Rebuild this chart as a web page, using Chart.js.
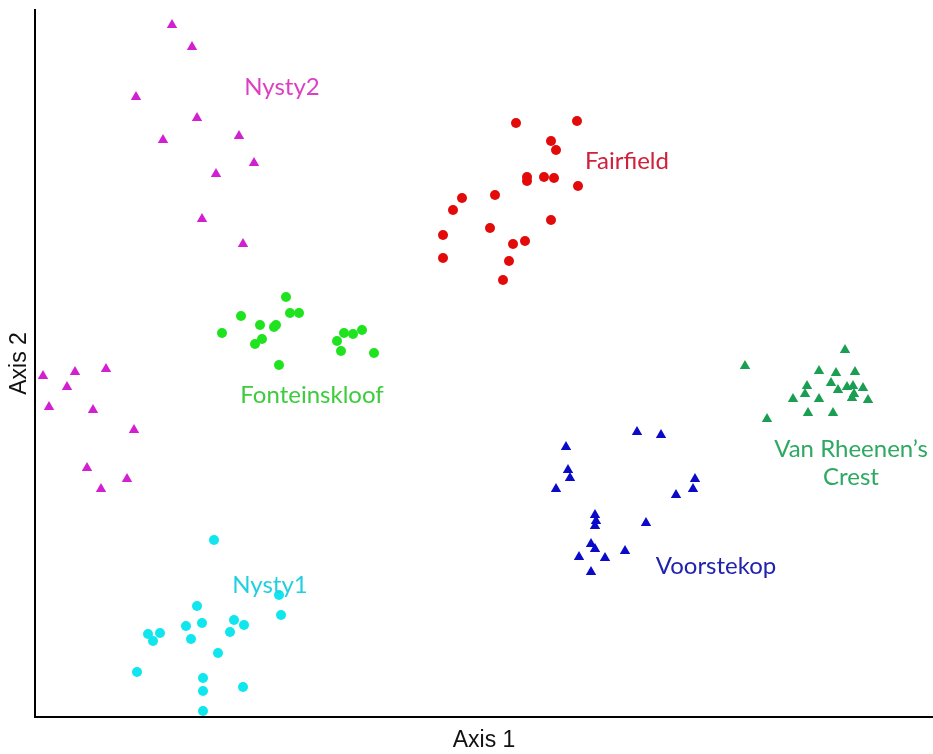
<!DOCTYPE html>
<html>
<head>
<meta charset="utf-8">
<script src="https://cdn.jsdelivr.net/npm/chart.js@4/dist/chart.umd.min.js"></script>
<style>
  html, body { margin: 0; padding: 0; background: #fff; }
  #wrap { width: 933px; height: 754px; }
</style>
</head>
<body>
<div id="wrap"><canvas id="ordination"></canvas></div>
<script>
// site scores (axis units are arbitrary)
const nysty2X = [137, 157, 101, 162, 128, 204, 219, 181, 167, 208, 8, 40, 71, 32, 14, 58, 99, 52, 92, 66];
const nysty2Y = [692, 670, 620, 599, 577, 581, 554, 543, 498, 473, 341, 345, 348, 330, 310, 307, 287, 249, 238, 228];

const fairfieldX = [481, 542, 516, 521, 492, 492, 509, 519, 543, 427, 460, 418, 516, 455, 408, 490, 478, 408, 474, 468];
const fairfieldY = [594, 596, 576, 567, 540, 536, 540, 539, 531, 519, 522, 507, 497, 489, 482, 476, 473, 459, 456, 437];

const fonteinX = [251, 206, 255, 264, 225, 239, 241, 187, 227, 220, 244, 309, 318, 327, 302, 306, 339];
const fonteinY = [420, 401, 404, 404, 392, 390, 392, 384, 378, 373, 352, 384, 383, 387, 376, 366, 364];

const nysty1X = [179, 244, 246, 162, 167, 151, 199, 209, 195, 156, 113, 125, 118, 183, 102, 168, 168, 208, 168];
const nysty1Y = [177, 122, 102, 111, 94, 91, 97, 92, 85, 78, 83, 84, 76, 64, 45, 39, 26, 30, 6];

const voorX = [602, 626, 531, 533, 535, 521, 660, 658, 641, 560, 561, 560, 611, 556, 560, 544, 570, 590, 556];
const voorY = [285, 282, 270, 247, 239, 228, 238, 228, 222, 202, 196, 191, 194, 173, 168, 160, 159, 166, 145];

const vanRheenenX = [810, 710, 784, 801, 820, 796, 772, 803, 812, 818, 828, 770, 758, 784, 817, 819, 833, 773, 798, 732];
const vanRheenenY = [367, 351, 346, 344, 345, 334, 331, 327, 330, 331, 329, 323, 318, 318, 319, 323, 317, 304, 304, 298];

const siteNames = ["Nysty2", "Fairfield", "Fonteinskloof", "Nysty1", "Voorstekop", ["Van Rheenen\u2019s", "Crest"]];
const labelX = [247, 592, 277, 235, 681, 816];
const labelY = [630, 556, 322, 132, 151, 254];

function toPoints(xs, ys) {
  return xs.map((x, i) => ({ x: x, y: ys[i] }));
}

const dotColors = ["#d21fd2", "#e30a0a", "#1fe31f", "#0fe6ee", "#0a0ac8", "#1a9e52"];
const textColors = ["#dd3fc4", "#d0203a", "#3ccc3c", "#22cfe0", "#2222b0", "#2ea862"];

const datasets = [
  { data: toPoints(nysty2X, nysty2Y), pointStyle: "triangle", pointRadius: 6 },
  { data: toPoints(fairfieldX, fairfieldY), pointStyle: "circle", pointRadius: 5 },
  { data: toPoints(fonteinX, fonteinY), pointStyle: "circle", pointRadius: 5 },
  { data: toPoints(nysty1X, nysty1Y), pointStyle: "circle", pointRadius: 5 },
  { data: toPoints(voorX, voorY), pointStyle: "triangle", pointRadius: 6 },
  { data: toPoints(vanRheenenX, vanRheenenY), pointStyle: "triangle", pointRadius: 6 },
].map((ds, i) => ({
  ...ds,
  label: Array.isArray(siteNames[i]) ? siteNames[i].join(" ") : siteNames[i],
  backgroundColor: dotColors[i],
  borderColor: dotColors[i],
  borderWidth: 0,
}));

// writes the site names next to their clusters
const siteLabels = {
  id: "siteLabels",
  afterDatasetsDraw(chart) {
    const ctx = chart.ctx;
    const xs = chart.scales.x;
    const ys = chart.scales.y;
    ctx.save();
    ctx.font = "24px Lato";
    ctx.textAlign = "center";
    ctx.textBaseline = "middle";
    siteNames.forEach((name, i) => {
      const lines = Array.isArray(name) ? name : [name];
      const px = xs.getPixelForValue(labelX[i]);
      const py = ys.getPixelForValue(labelY[i]);
      ctx.fillStyle = textColors[i];
      lines.forEach((line, j) => {
        ctx.fillText(line, px, py + (j - (lines.length - 1) / 2) * 28);
      });
    });
    ctx.restore();
  },
};

new Chart(document.getElementById("ordination"), {
  type: "scatter",
  data: { datasets: datasets },
  plugins: [siteLabels],
  options: {
    responsive: true,
    maintainAspectRatio: false,
    animation: false,
    layout: { autoPadding: false, padding: { top: 10, right: 0, left: 0, bottom: 0 } },
    plugins: {
      legend: { display: false },
      tooltip: { enabled: false },
    },
    scales: {
      x: {
        type: "linear",
        min: 0,
        max: 898,
        grid: { display: false },
        border: { display: true, color: "#000", width: 2 },
        ticks: { display: false },
        title: {
          display: true,
          text: "Axis 1",
          color: "#111",
          font: { family: "Liberation Sans", size: 23 },
          padding: { top: 5, bottom: 0 },
        },
        afterFit(scale) { scale.height = 37; },
      },
      y: {
        type: "linear",
        min: 0,
        max: 707,
        grid: { display: false },
        border: { display: true, color: "#000", width: 2 },
        ticks: { display: false },
        title: {
          display: true,
          text: "Axis 2",
          color: "#111",
          font: { family: "Liberation Sans", size: 23 },
          padding: { top: 6, bottom: 0 },
        },
        afterFit(scale) { scale.width = 35; },
      },
    },
  },
});
</script>
</body>
</html>
